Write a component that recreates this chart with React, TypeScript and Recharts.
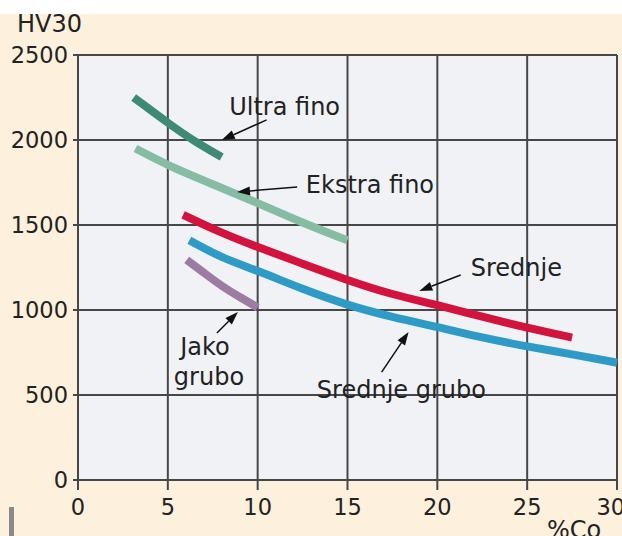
import { LineChart, Line, XAxis, YAxis, CartesianGrid, ReferenceLine, ReferenceDot } from 'recharts';

const xTicks = [0, 5, 10, 15, 20, 25, 30];
const yTicks = [0, 500, 1000, 1500, 2000, 2500];

const ultraX = [3.1, 5, 6.5, 8];
const ultraY = [2250, 2100, 1990, 1900];
const ekstraX = [3.2, 5, 7.5, 10, 12.5, 15];
const ekstraY = [1950, 1850, 1740, 1630, 1512, 1410];
const srednjeX = [5.85, 8, 10, 12.5, 15, 17.5, 20, 22.5, 25, 27.5];
const srednjeY = [1560, 1452, 1370, 1272, 1175, 1090, 1030, 960, 895, 838];
const grubX = [6.2, 8, 10, 12.5, 15, 17.5, 20, 22.5, 25, 27.5, 30];
const grubY = [1410, 1306, 1232, 1122, 1028, 958, 900, 837, 785, 740, 690];
const jakoX = [6.05, 7, 8, 9, 10];
const jakoY = [1295, 1220, 1140, 1076, 1015];

const toPts = (xs: number[], ys: number[]) => xs.map((x, i) => ({ x, y: ys[i] }));

const series = [
  { name: 'Ultra fino', data: toPts(ultraX, ultraY), color: '#3f8a77' },
  { name: 'Ekstra fino', data: toPts(ekstraX, ekstraY), color: '#86bca3' },
  { name: 'Srednje', data: toPts(srednjeX, srednjeY), color: '#d2133d' },
  { name: 'Srednje grubo', data: toPts(grubX, grubY), color: '#2e9ac6' },
  { name: 'Jako grubo', data: toPts(jakoX, jakoY), color: '#9c7ca2' },
];

// label text and arrows, in data units
const labels = [
  { text: 'Ultra fino', x: 11.5, y: 2194 },
  { text: 'Ekstra fino', x: 16.25, y: 1735 },
  { text: 'Srednje', x: 24.4, y: 1247 },
  { text: 'Jako', x: 7.07, y: 782 },
  { text: 'grubo', x: 7.29, y: 606 },
  { text: 'Srednje grubo', x: 18.0, y: 529 },
];
const arrows = [
  { from: [10.5, 2118], to: [8.0, 2000] },
  { from: [12.2, 1724], to: [8.85, 1694] },
  { from: [21.3, 1206], to: [19.0, 1112] },
  { from: [7.73, 865], to: [8.9, 988] },
  { from: [16.9, 635], to: [18.4, 870] },
];

const font = '"DejaVu Sans", sans-serif';

const Arrow = (p: any) => {
  const { x1, y1, x2, y2 } = p;
  const a = Math.atan2(y2 - y1, x2 - x1);
  const len = 13;
  const w = 4.5;
  const bx = x2 - len * Math.cos(a);
  const by = y2 - len * Math.sin(a);
  const nx = -Math.sin(a) * w;
  const ny = Math.cos(a) * w;
  return (
    <g>
      <line x1={x1} y1={y1} x2={bx} y2={by} stroke="#111" strokeWidth={1.5} />
      <polygon points={`${x2},${y2} ${bx + nx},${by + ny} ${bx - nx},${by - ny}`} fill="#111" />
    </g>
  );
};

export default function App() {
  return (
    <div
      style={{
        position: 'absolute',
        left: 0,
        top: 0,
        width: 622,
        height: 536,
        overflow: 'hidden',
        background: 'linear-gradient(#ffffff 0 14px, #fdf0dc 14px)',
        fontFamily: font,
      }}
    >
      <div style={{ position: 'absolute', left: 17, top: 10, fontSize: 24, color: '#222' }}>HV30</div>
      <div style={{ position: 'absolute', left: 547, top: 516, fontSize: 24, color: '#222' }}>%Co</div>
      <div style={{ position: 'absolute', left: 9, top: 507, width: 5, height: 29, background: '#8a8a8a' }} />
      <LineChart width={622} height={536} margin={{ top: 55, right: 5, bottom: 0, left: 0 }}>
        <CartesianGrid fill="#f0f2f6" stroke="#474747" strokeWidth={2} />
        <XAxis
          type="number"
          dataKey="x"
          domain={[0, 30]}
          ticks={xTicks}
          height={56}
          tickSize={10}
          tickMargin={9}
          stroke="#474747"
          strokeWidth={2}
          tick={{ fill: '#222', fontSize: 22.5, fontFamily: font }}
        />
        <YAxis
          type="number"
          dataKey="y"
          domain={[0, 2500]}
          ticks={yTicks}
          width={78}
          tickSize={5}
          tickMargin={5}
          stroke="#474747"
          strokeWidth={2}
          tick={{ fill: '#222', fontSize: 22.5, fontFamily: font }}
        />
        {series.map((s) => (
          <Line
            key={s.name}
            data={s.data}
            dataKey="y"
            type="basis"
            stroke={s.color}
            strokeWidth={8}
            dot={false}
            isAnimationActive={false}
          />
        ))}
        {arrows.map((a, i) => (
          <ReferenceLine
            key={'a' + i}
            segment={[
              { x: a.from[0], y: a.from[1] },
              { x: a.to[0], y: a.to[1] },
            ]}
            shape={Arrow}
          />
        ))}
        {labels.map((l) => (
          <ReferenceDot
            key={l.text}
            x={l.x}
            y={l.y}
            r={0}
            shape={(p: any) => (
              <text
                x={p.cx}
                y={p.cy}
                textAnchor="middle"
                dominantBaseline="central"
                fontSize={24}
                fontFamily={font}
                fill="#222"
              >
                {l.text}
              </text>
            )}
          />
        ))}
      </LineChart>
    </div>
  );
}
